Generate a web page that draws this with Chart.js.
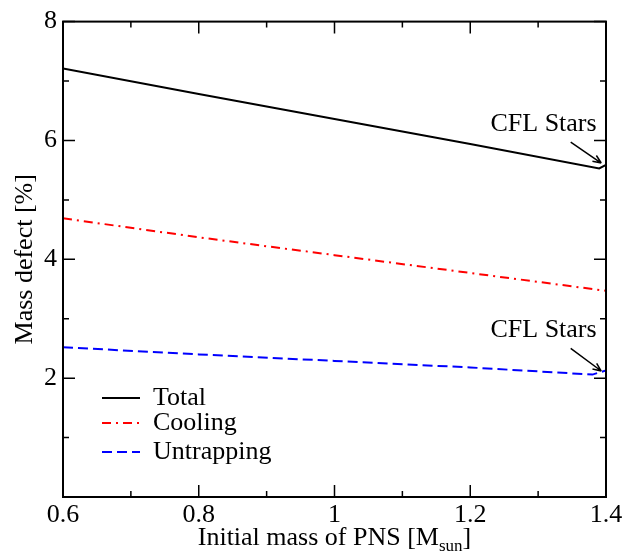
<!DOCTYPE html>
<html>
<head>
<meta charset="utf-8">
<script src="https://cdn.jsdelivr.net/npm/chart.js@4"></script>
<style>
  body { margin: 0; background: #fff; }
  canvas { display: block; }
</style>
</head>
<body>
<canvas id="defectChart" width="636" height="554"></canvas>
<script>
// Values
const totalX = [0.6, 0.8, 1.0, 1.2, 1.39, 1.4];
const totalY = [7.21, 6.78, 6.36, 5.94, 5.53, 5.59];
const coolingX = [0.6, 0.8, 1.0, 1.2, 1.4];
const coolingY = [4.69, 4.37, 4.07, 3.77, 3.47];
const untrapX = [0.6, 0.8, 1.0, 1.2, 1.38, 1.4];
const untrapY = [2.52, 2.40, 2.29, 2.18, 2.06, 2.13];

const xTicks = [0.6, 0.8, 1.0, 1.2, 1.4];
const xMinor = [0.7, 0.9, 1.1, 1.3];
const yTicks = [2, 4, 6, 8];
const yMinor = [1, 3, 5, 7];

const legendLabels = ['Total', 'Cooling', 'Untrapping'];

const FONT = '"Liberation Serif", "DejaVu Serif", serif';

function toPoints(xs, ys) {
    return xs.map((x, i) => ({ x: x, y: ys[i] }));
}

// Draw frame, inward ticks, legend, notes and axis titles
const decorations = {
    id: 'decorations',
    afterDraw(chart) {
        const ctx = chart.ctx;
        const a = chart.chartArea;
        const xs = chart.scales.x;
        const ys = chart.scales.y;
        ctx.save();

        // ticks (all four sides, pointing in)
        ctx.strokeStyle = '#000';
        ctx.lineWidth = 1.5;
        const tick = (len, list, horiz) => {
            list.forEach(v => {
                ctx.beginPath();
                if (horiz) {
                    const px = xs.getPixelForValue(v);
                    ctx.moveTo(px, a.bottom); ctx.lineTo(px, a.bottom - len);
                    ctx.moveTo(px, a.top); ctx.lineTo(px, a.top + len);
                } else {
                    const py = ys.getPixelForValue(v);
                    ctx.moveTo(a.left, py); ctx.lineTo(a.left + len, py);
                    ctx.moveTo(a.right, py); ctx.lineTo(a.right - len, py);
                }
                ctx.stroke();
            });
        };
        tick(12, xTicks, true);
        tick(6, xMinor, true);
        tick(12, yTicks, false);
        tick(6, yMinor, false);

        // frame
        ctx.lineWidth = 2;
        ctx.strokeRect(a.left, a.top, a.right - a.left, a.bottom - a.top);

        // legend
        const ds = chart.data.datasets;
        const rows = [398, 423, 452];
        ctx.font = '26px ' + FONT;
        ctx.textBaseline = 'middle';
        ctx.textAlign = 'left';
        ds.forEach((d, i) => {
            ctx.beginPath();
            ctx.setLineDash(d.borderDash || []);
            ctx.strokeStyle = d.borderColor;
            ctx.lineWidth = 2;
            ctx.moveTo(102, rows[i]);
            ctx.lineTo(140, rows[i]);
            ctx.stroke();
            ctx.setLineDash([]);
            ctx.fillStyle = '#000';
            ctx.fillText(legendLabels[i], 153, rows[i]);
        });

        // CFL Stars notes with arrows
        const notes = [
            { tx: 1.308, ty: 6.27, sx: 1.348, sy: 5.97, ex: 1.393, ey: 5.62 },
            { tx: 1.308, ty: 2.80, sx: 1.348, sy: 2.50, ex: 1.393, ey: 2.12 }
        ];
        ctx.textAlign = 'center';
        ctx.strokeStyle = '#000';
        ctx.fillStyle = '#000';
        ctx.lineWidth = 1.5;
        notes.forEach(n => {
            ctx.fillText('CFL Stars', xs.getPixelForValue(n.tx), ys.getPixelForValue(n.ty));
            const x1 = xs.getPixelForValue(n.sx), y1 = ys.getPixelForValue(n.sy);
            const x2 = xs.getPixelForValue(n.ex), y2 = ys.getPixelForValue(n.ey);
            ctx.beginPath();
            ctx.moveTo(x1, y1); ctx.lineTo(x2, y2);
            const ang = Math.atan2(y2 - y1, x2 - x1);
            ctx.moveTo(x2, y2);
            ctx.lineTo(x2 - 9 * Math.cos(ang - 0.4), y2 - 9 * Math.sin(ang - 0.4));
            ctx.moveTo(x2, y2);
            ctx.lineTo(x2 - 9 * Math.cos(ang + 0.4), y2 - 9 * Math.sin(ang + 0.4));
            ctx.stroke();
        });

        // y title
        ctx.save();
        ctx.translate(25, (a.top + a.bottom) / 2);
        ctx.rotate(-Math.PI / 2);
        ctx.textAlign = 'center';
        ctx.textBaseline = 'middle';
        ctx.font = '26px ' + FONT;
        ctx.fillText('Mass defect [%]', 0, 0);
        ctx.restore();

        // x title with subscript
        const main = 'Initial mass of PNS [M';
        const sub = 'sun';
        ctx.font = '26px ' + FONT;
        const wMain = ctx.measureText(main).width;
        ctx.font = '17px ' + FONT;
        const wSub = ctx.measureText(sub).width;
        ctx.font = '26px ' + FONT;
        const wEnd = ctx.measureText(']').width;
        const x0 = (a.left + a.right) / 2 - (wMain + wSub + wEnd) / 2;
        const base = 545;
        ctx.textAlign = 'left';
        ctx.textBaseline = 'alphabetic';
        ctx.fillText(main, x0, base);
        ctx.font = '17px ' + FONT;
        ctx.fillText(sub, x0 + wMain, base + 6);
        ctx.font = '26px ' + FONT;
        ctx.fillText(']', x0 + wMain + wSub, base);

        ctx.restore();
    }
};

const ctx = document.getElementById('defectChart').getContext('2d');
new Chart(ctx, {
    type: 'scatter',
    data: {
        datasets: [
            {
                label: 'Total',
                data: toPoints(totalX, totalY),
                showLine: true,
                borderColor: '#000000',
                borderWidth: 2,
                pointRadius: 0,
                fill: false
            },
            {
                label: 'Cooling',
                data: toPoints(coolingX, coolingY),
                showLine: true,
                borderColor: '#ff0000',
                borderWidth: 2,
                borderDash: [9, 5, 2, 5],
                pointRadius: 0,
                fill: false
            },
            {
                label: 'Untrapping',
                data: toPoints(untrapX, untrapY),
                showLine: true,
                borderColor: '#0000ff',
                borderWidth: 2,
                borderDash: [10, 5],
                pointRadius: 0,
                fill: false
            }
        ]
    },
    options: {
        responsive: false,
        animation: false,
        layout: { padding: { top: 17, right: 30, left: 0, bottom: 0 } },
        plugins: {
            legend: { display: false },
            tooltip: { enabled: false }
        },
        scales: {
            x: {
                type: 'linear',
                min: 0.6,
                max: 1.4,
                afterBuildTicks: s => { s.ticks = xTicks.map(v => ({ value: v })); },
                afterFit: s => { s.height = 57; },
                grid: { display: false, drawTicks: false },
                border: { display: false },
                ticks: {
                    padding: 3,
                    color: '#000',
                    font: { family: FONT, size: 26 },
                    maxRotation: 0,
                    callback: v => String(Number(v.toFixed(1)))
                }
            },
            y: {
                type: 'linear',
                min: 0,
                max: 8,
                afterBuildTicks: s => { s.ticks = yTicks.map(v => ({ value: v })); },
                afterFit: s => { s.width = 63; },
                grid: { display: false, drawTicks: false },
                border: { display: false },
                ticks: {
                    padding: 6,
                    color: '#000',
                    font: { family: FONT, size: 26 },
                    callback: v => String(v)
                }
            }
        }
    },
    plugins: [decorations]
});
</script>
</body>
</html>
